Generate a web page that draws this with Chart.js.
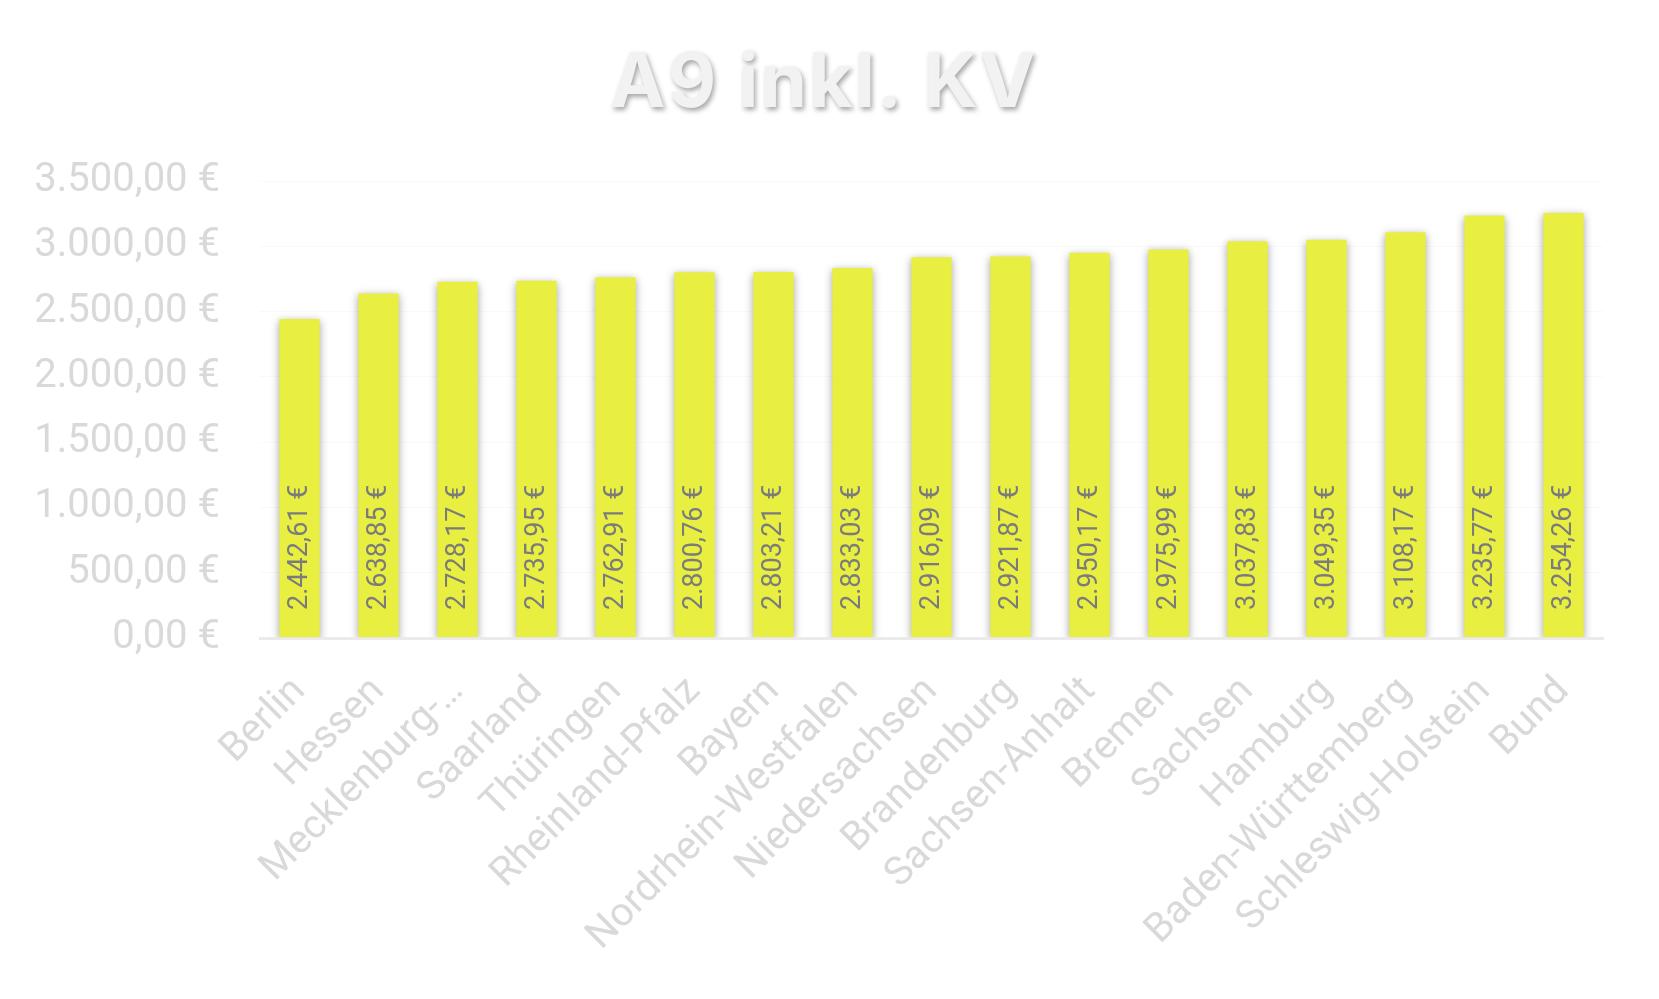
<!DOCTYPE html>
<html lang="de">
<head>
<meta charset="utf-8">
<title>A9 inkl. KV</title>
<script src="https://cdn.jsdelivr.net/npm/chart.js@4/dist/chart.umd.min.js"></script>
<style>
  html, body { margin: 0; padding: 0; background: #ffffff; }
  #wrap { width: 1659px; height: 999px; position: relative; }
</style>
</head>
<body>
<div id="wrap"><canvas id="grafica"></canvas></div>
<script>
const laender = ["Berlin", "Hessen", "Mecklenburg-…", "Saarland", "Thüringen", "Rheinland-Pfalz",
  "Bayern", "Nordrhein-Westfalen", "Niedersachsen", "Brandenburg", "Sachsen-Anhalt", "Bremen",
  "Sachsen", "Hamburg", "Baden-Württemberg", "Schleswig-Holstein", "Bund"];
const werte = [2442.61, 2638.85, 2728.17, 2735.95, 2762.91, 2800.76, 2803.21, 2833.03, 2916.09,
  2921.87, 2950.17, 2975.99, 3037.83, 3049.35, 3108.17, 3235.77, 3254.26];
const yTicks = [0, 500, 1000, 1500, 2000, 2500, 3000, 3500];
const titel = "A9 inkl. KV";

const graphic = document.getElementById("grafica");

function euro(v) { // 3254.26 -> "3.254,26 €"
  const parts = v.toFixed(2).split(".");
  const ganz = parts[0].replace(/\B(?=(\d{3})+(?!\d))/g, ".");
  return ganz + "," + parts[1] + " €";
}

const schattenPlugin = {
  id: "schatten",
  beforeDraw(chart) {
    const t = chart.titleBlock;
    if (t && !t._wrapped) { // titel mit schatten zeichnen
      const orig = t.draw;
      t.draw = function () {
        const ctx = chart.ctx;
        ctx.save();
        ctx.translate(7, 0);
        ctx.letterSpacing = "2px";
        ctx.shadowColor = "rgba(0,0,0,0.35)";
        ctx.shadowBlur = 5;
        ctx.shadowOffsetX = 2;
        ctx.shadowOffsetY = 3;
        orig.apply(this, arguments);
        ctx.restore();
      };
      t._wrapped = true;
    }
  },
  beforeDatasetsDraw(chart) {
    const ctx = chart.ctx;
    ctx.save();
    ctx.shadowColor = "rgba(0,0,0,0.35)";
    ctx.shadowBlur = 8;
    ctx.shadowOffsetX = 0;
    ctx.shadowOffsetY = 2;
  },
  afterDatasetsDraw(chart) {
    const ctx = chart.ctx;
    ctx.restore();
    // werte senkrecht in die balken schreiben
    const meta = chart.getDatasetMeta(0);
    const y0 = chart.scales.y.getPixelForValue(0);
    ctx.save();
    ctx.fillStyle = "#7b7b7b";
    ctx.font = "27px Roboto";
    ctx.textAlign = "left";
    ctx.textBaseline = "middle";
    meta.data.forEach((bar, i) => {
      ctx.save();
      ctx.translate(bar.x, y0 - 28);
      ctx.rotate(-Math.PI / 2);
      ctx.fillText(euro(werte[i]), 0, 1);
      ctx.restore();
    });
    ctx.restore();
  }
};

const config = {
  type: "bar",
  data: {
    labels: laender,
    datasets: [{
      label: titel,
      data: werte,
      backgroundColor: "#e8ef40",
      borderWidth: 0,
      barPercentage: 0.51,
      categoryPercentage: 1
    }]
  },
  options: {
    responsive: true,
    maintainAspectRatio: false,
    animation: false,
    layout: { padding: { left: 30, right: 56, top: 33, bottom: 30 } },
    plugins: {
      legend: { display: false },
      tooltip: { enabled: false },
      title: {
        display: true,
        text: titel,
        color: "#f2f2f2",
        font: { family: "Inter", size: 75, weight: "700" },
        padding: { top: 6, bottom: 52 }
      }
    },
    scales: {
      x: {
        grid: { display: false },
        border: { display: true, color: "rgba(232,232,232,0.85)", width: 3, z: 1 },
        ticks: {
          color: "#d9d9d9",
          font: { family: "Roboto", size: 40 },
          maxRotation: 45,
          minRotation: 45,
          autoSkip: false,
          padding: 22
        },
        afterFit(s) { s.height = 999 - 30 - 638; }
      },
      y: {
        min: 0,
        max: 3500,
        afterBuildTicks(s) { s.ticks = yTicks.map(v => ({ value: v })); },
        grid: { color: "#f9f9f9", drawTicks: false },
        border: { display: false },
        ticks: {
          color: "#d9d9d9",
          font: { family: "Roboto", size: 40 },
          padding: 40,
          callback: v => euro(v)
        },
        afterFit(s) { s.width = 230; }
      }
    }
  },
  plugins: [schattenPlugin]
};

let chart = new Chart(graphic, config);
</script>
</body>
</html>
